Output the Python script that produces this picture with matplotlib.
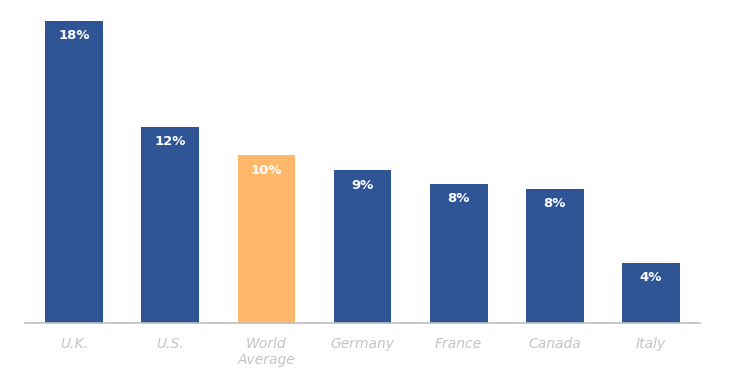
import matplotlib
matplotlib.use("Agg")
import matplotlib.pyplot as plt

countries = ["U.K.", "U.S.", "World\nAverage", "Germany", "France", "Canada", "Italy"]
values = [18.0, 11.7, 10.0, 9.1, 8.3, 8.0, 3.6]
labels = ["18%", "12%", "10%", "9%", "8%", "8%", "4%"]

blue = "#2F5597"
orange = "#FFB869"
colors = [orange if c.startswith("World") else blue for c in countries]

plt.rcParams["font.family"] = ["DejaVu Sans"]

fig = plt.figure(figsize=(7.34, 3.9), dpi=100)
ax = fig.add_axes([25 / 734, 1 - 323 / 390, 675 / 734, 313 / 390])

x = range(len(countries))
bars = ax.bar(x, values, width=0.6, color=colors, zorder=2)

for b, lab in zip(bars, labels):
    ax.annotate(lab, (b.get_x() + b.get_width() / 2, b.get_height()),
                xytext=(0, -6), textcoords="offset points",
                ha="center", va="top", color="white",
                fontsize=9.5, fontweight="bold")

ax.set_xlim(-0.51, len(countries) - 0.49)
ax.set_ylim(0, 18 * 313 / 302)
ax.set_xticks(list(x))
ax.set_xticklabels(countries, fontsize=10, style="italic", color="#C4C4C4",
                   linespacing=1.15)
ax.tick_params(axis="x", length=0, pad=10)
ax.set_yticks([])
for s in ["top", "right", "left"]:
    ax.spines[s].set_visible(False)
ax.spines["bottom"].set_color("#BFBFBF")
ax.spines["bottom"].set_linewidth(1.2)

fig.savefig("out.png", dpi=100)
